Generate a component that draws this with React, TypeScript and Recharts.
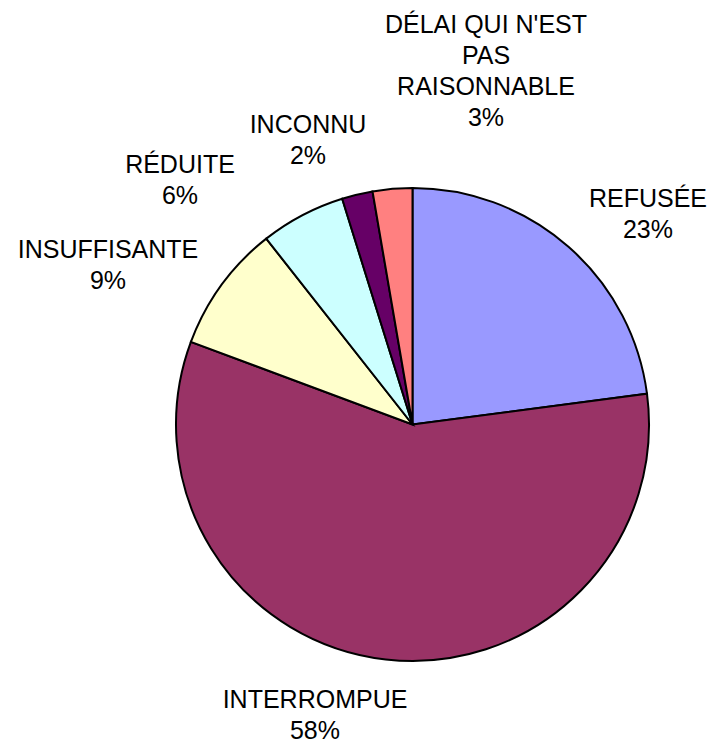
import React from 'react';
import { PieChart, Pie, Cell } from 'recharts';

const categories = ['REFUSÉE', 'INTERROMPUE', 'INSUFFISANTE', 'RÉDUITE', 'INCONNU', "DÉLAI QUI N'EST PAS RAISONNABLE"];
const values = [22.9, 57.7, 8.7, 5.8, 2.1, 2.7];
const percentLabels = ['23%', '58%', '9%', '6%', '2%', '3%'];
const categoryLines = [['REFUSÉE'], ['INTERROMPUE'], ['INSUFFISANTE'], ['RÉDUITE'], ['INCONNU'], ["DÉLAI QUI N'EST", 'PAS', 'RAISONNABLE']];
const colors = ['#9999FF', '#993366', '#FFFFCC', '#CCFFFF', '#660066', '#FF8080'];

// label anchor (first baseline, centred) relative to the pie centre
const labelOffsets = [
  { dx: 235.5, dy: -217.5 },
  { dx: -97.5, dy: 283.5 },
  { dx: -304.5, dy: -166.5 },
  { dx: -232.5, dy: -251.5 },
  { dx: -104.5, dy: -291.5 },
  { dx: 73.5, dy: -391.5 },
];

const data = categories.map((name, i) => ({ name, value: values[i] }));

const FONT = '"Liberation Sans", Arial, sans-serif';
const LINE_H = 31;

const renderLabel = (props: any) => {
  const { cx, cy, index } = props;
  const off = labelOffsets[index];
  const lines = [...categoryLines[index], percentLabels[index]];
  const x = cx + off.dx;
  const y = cy + off.dy;
  return (
    <text x={x} y={y} textAnchor="middle" fontFamily={FONT} fontSize={25} fill="#000">
      {lines.map((l, k) => (
        <tspan key={k} x={x} y={y + k * LINE_H}>{l}</tspan>
      ))}
    </text>
  );
};

export default function App() {
  return (
    <div style={{ position: 'absolute', left: 0, top: 0, background: '#fff' }}>
      <PieChart width={717} height={746} margin={{ top: 0, right: 0, bottom: 0, left: 0 }}>
        <Pie
          data={data}
          dataKey="value"
          nameKey="name"
          cx={412.5}
          cy={424.5}
          outerRadius={236.5}
          startAngle={90}
          endAngle={-270}
          stroke="#000"
          strokeWidth={2}
          label={renderLabel}
          labelLine={false}
          isAnimationActive={false}
        >
          {data.map((d, i) => (
            <Cell key={d.name} fill={colors[i]} stroke="#000" strokeWidth={2} />
          ))}
        </Pie>
      </PieChart>
    </div>
  );
}
